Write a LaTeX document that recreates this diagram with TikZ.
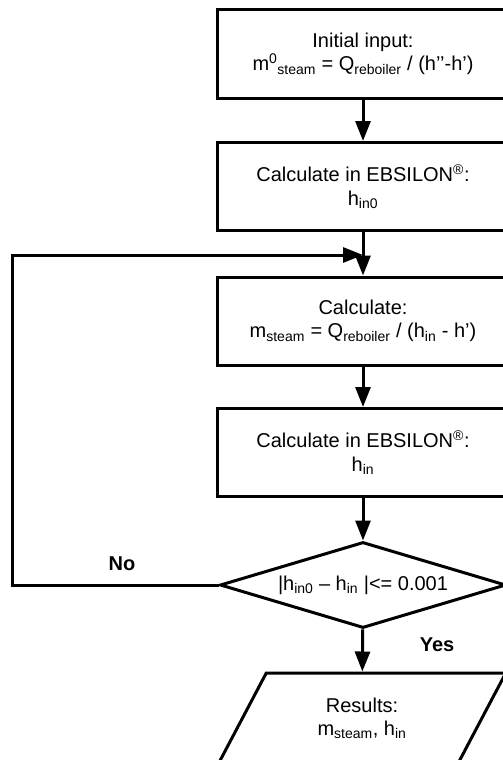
\documentclass[tikz,border=0pt]{standalone}
\usepackage{fontspec}
\setmainfont{Liberation Sans}
\usetikzlibrary{arrows.meta,shapes.geometric}
\begin{document}
\begin{tikzpicture}[x=1pt,y=-1pt,
  line width=3pt,
  every node/.style={font=\fontsize{20}{23.5}\selectfont, align=center},
  procbox/.style={draw, rectangle, minimum width=292pt, minimum height=88pt, inner sep=0pt},
  decision/.style={draw, diamond, aspect=3.33, minimum width=286pt, minimum height=86pt, inner sep=0pt},
  iobox/.style={draw, trapezium, trapezium left angle=61.6, trapezium right angle=118.4,
    trapezium stretches=true, minimum width=288pt, minimum height=91pt, inner sep=0pt},
  arr/.style={-{Triangle[length=20pt,width=15pt]}},
  lbl/.style={font=\fontsize{20}{23.5}\selectfont\bfseries}]
\useasboundingbox (0,0) rectangle (503,760);

\node[procbox] (init) at (363,54)
  {Initial input:\\m\textsuperscript{0}\textsubscript{steam} = Q\textsubscript{reboiler} / (h’’-h’)};
\node[procbox] (ebs0) at (363,186.5)
  {Calculate in EBSILON\textsuperscript{®}:\\h\textsubscript{in0}};
\node[procbox] (calc) at (363,321)
  {Calculate:\\m\textsubscript{steam} = Q\textsubscript{reboiler} / (h\textsubscript{in} - h’)};
\node[procbox] (ebs) at (363,452.5)
  {Calculate in EBSILON\textsuperscript{®}:\\h\textsubscript{in}};
\node[decision] (dec) at (363,585)
  {|h\textsubscript{in0} – h\textsubscript{in} |<= 0.001};
\node[iobox] (res) at (362,718.5)
  {Results:\\m\textsubscript{steam}, h\textsubscript{in}};

\coordinate (join) at (363,255);
\coordinate (lc) at (12,585);

\draw[arr] (init) -- (ebs0);
\draw (ebs0) -- (join);
\draw[arr] (join) -- (calc);
\draw[arr] (calc) -- (ebs);
\draw[arr] (ebs) -- (dec);
\draw[arr] (dec) -- (res);
\draw[arr] (dec.west) -- (lc) |- (join);

\node[lbl] (no) at (122,564) {No};
\node[lbl] (yes) at (437,645) {Yes};
\end{tikzpicture}
\end{document}
